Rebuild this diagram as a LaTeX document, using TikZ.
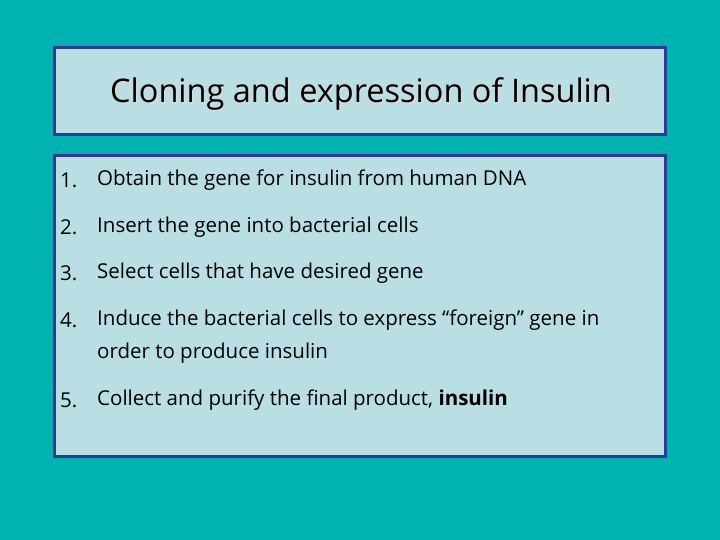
\documentclass[tikz,border=0pt]{standalone}
\usepackage{fontspec}
\setmainfont{Open Sans}
\definecolor{bg}{HTML}{00B2B0}
\definecolor{boxf}{HTML}{B9DEE3}
\definecolor{boxd}{HTML}{2E3A97}
\begin{document}
\begin{tikzpicture}[x=1pt,y=-1pt,
  panel/.style={draw=boxd,line width=3pt,fill=boxf},
  item/.style={anchor=west,font=\fontsize{20.5}{24}\selectfont,inner sep=0pt}]
\fill[bg] (0,0) rectangle (720,540);
\useasboundingbox (0,0) rectangle (720,540);
\draw[panel] (54,48) rectangle (665,135);
\draw[panel] (54,156) rectangle (665,456);
\node[font=\fontsize{32.5}{36}\selectfont,text=white!70!gray] (ts) at (362.5,95.5) {Cloning and expression of Insulin};
\node[font=\fontsize{32.5}{36}\selectfont] (t) at (361,94) {Cloning and expression of Insulin};
\node[item] (n1) at (60,180) {1.};
\node[item] (i1) at (97,180) {Obtain the gene for insulin from human DNA};
\node[item] (n2) at (60,227) {2.};
\node[item] (i2) at (97,227) {Insert the gene into bacterial cells};
\node[item] (n3) at (60,273) {3.};
\node[item] (i3) at (97,273) {Select cells that have desired gene};
\node[item] (n4) at (60,320) {4.};
\node[item] (i4) at (97,320) {Induce the bacterial cells to express “foreign” gene in};
\node[item] (i4b) at (97,353) {order to produce insulin};
\node[item] (n5) at (60,400) {5.};
\node[item] (i5) at (97,400) {Collect and purify the final product, \textbf{insulin}};
\end{tikzpicture}
\end{document}
